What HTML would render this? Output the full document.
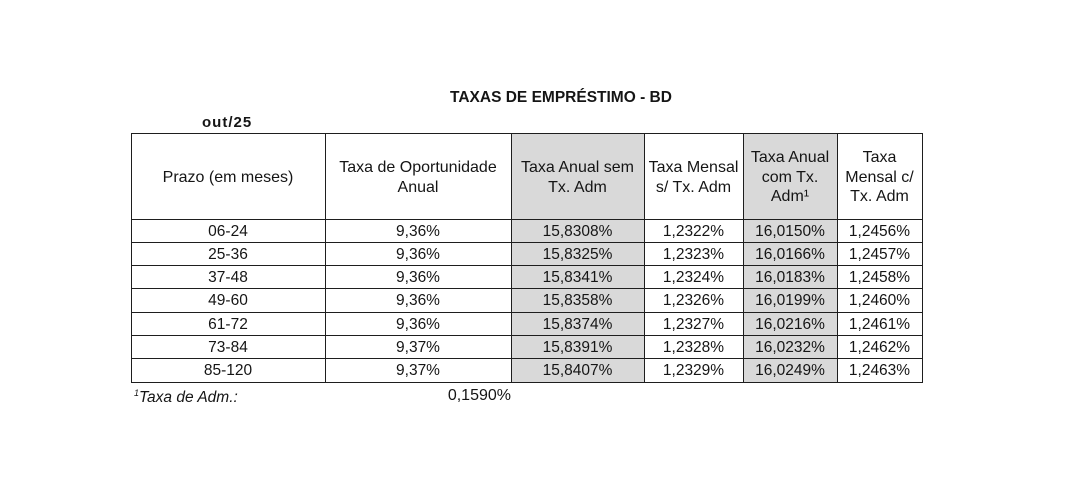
<!DOCTYPE html>
<html><head><meta charset="utf-8"><style>
html,body{margin:0;padding:0;background:#fff;}
body{width:1066px;height:501px;position:relative;overflow:hidden;font-family:"Liberation Sans",sans-serif;color:#151515;}
.c{position:absolute;display:flex;align-items:center;justify-content:center;text-align:center;box-sizing:border-box;white-space:nowrap;}
.g{background:#d9d9d9;}
.h{font-size:16px;line-height:19.5px;}
.d{font-size:15.5px;}
.l{position:absolute;background:#1e1e1e;}
</style></head><body>
<div style="position:absolute;left:440px;top:89px;width:242px;font-weight:bold;font-size:15.5px;white-space:nowrap;text-align:center;">TAXAS DE EMPRÉSTIMO - BD</div>
<div style="position:absolute;left:202px;top:114px;font-weight:bold;font-size:15px;letter-spacing:1px;">out/25</div>

<!-- gray backgrounds -->
<div class="g" style="position:absolute;left:511px;top:133px;width:133px;height:250px;"></div>
<div class="g" style="position:absolute;left:743px;top:133px;width:94px;height:250px;"></div>

<!-- header -->
<div class="c h" style="left:131px;top:134px;width:194px;height:87px;">Prazo (em meses)</div>
<div class="c h" style="left:325px;top:134px;width:186px;height:87px;">Taxa de Oportunidade<br>Anual</div>
<div class="c h" style="left:511px;top:134px;width:133px;height:87px;">Taxa Anual sem<br>Tx. Adm</div>
<div class="c h" style="left:644px;top:134px;width:99px;height:87px;">Taxa Mensal<br>s/ Tx. Adm</div>
<div class="c h" style="left:743px;top:134px;width:94px;height:87px;">Taxa Anual<br>com Tx.<br>Adm¹</div>
<div class="c h" style="left:837px;top:134px;width:85px;height:87px;">Taxa<br>Mensal c/<br>Tx. Adm</div>

<!-- rows -->
<div class="c d" style="left:131px;top:220px;width:194px;height:23px;">06-24</div>
<div class="c d" style="left:325px;top:220px;width:186px;height:23px;">9,36%</div>
<div class="c d" style="left:511px;top:220px;width:133px;height:23px;">15,8308%</div>
<div class="c d" style="left:644px;top:220px;width:99px;height:23px;">1,2322%</div>
<div class="c d" style="left:743px;top:220px;width:94px;height:23px;">16,0150%</div>
<div class="c d" style="left:837px;top:220px;width:85px;height:23px;">1,2456%</div>

<div class="c d" style="left:131px;top:243px;width:194px;height:23px;">25-36</div>
<div class="c d" style="left:325px;top:243px;width:186px;height:23px;">9,36%</div>
<div class="c d" style="left:511px;top:243px;width:133px;height:23px;">15,8325%</div>
<div class="c d" style="left:644px;top:243px;width:99px;height:23px;">1,2323%</div>
<div class="c d" style="left:743px;top:243px;width:94px;height:23px;">16,0166%</div>
<div class="c d" style="left:837px;top:243px;width:85px;height:23px;">1,2457%</div>

<div class="c d" style="left:131px;top:266px;width:194px;height:23px;">37-48</div>
<div class="c d" style="left:325px;top:266px;width:186px;height:23px;">9,36%</div>
<div class="c d" style="left:511px;top:266px;width:133px;height:23px;">15,8341%</div>
<div class="c d" style="left:644px;top:266px;width:99px;height:23px;">1,2324%</div>
<div class="c d" style="left:743px;top:266px;width:94px;height:23px;">16,0183%</div>
<div class="c d" style="left:837px;top:266px;width:85px;height:23px;">1,2458%</div>

<div class="c d" style="left:131px;top:289px;width:194px;height:24px;">49-60</div>
<div class="c d" style="left:325px;top:289px;width:186px;height:24px;">9,36%</div>
<div class="c d" style="left:511px;top:289px;width:133px;height:24px;">15,8358%</div>
<div class="c d" style="left:644px;top:289px;width:99px;height:24px;">1,2326%</div>
<div class="c d" style="left:743px;top:289px;width:94px;height:24px;">16,0199%</div>
<div class="c d" style="left:837px;top:289px;width:85px;height:24px;">1,2460%</div>

<div class="c d" style="left:131px;top:313px;width:194px;height:23px;">61-72</div>
<div class="c d" style="left:325px;top:313px;width:186px;height:23px;">9,36%</div>
<div class="c d" style="left:511px;top:313px;width:133px;height:23px;">15,8374%</div>
<div class="c d" style="left:644px;top:313px;width:99px;height:23px;">1,2327%</div>
<div class="c d" style="left:743px;top:313px;width:94px;height:23px;">16,0216%</div>
<div class="c d" style="left:837px;top:313px;width:85px;height:23px;">1,2461%</div>

<div class="c d" style="left:131px;top:336px;width:194px;height:23px;">73-84</div>
<div class="c d" style="left:325px;top:336px;width:186px;height:23px;">9,37%</div>
<div class="c d" style="left:511px;top:336px;width:133px;height:23px;">15,8391%</div>
<div class="c d" style="left:644px;top:336px;width:99px;height:23px;">1,2328%</div>
<div class="c d" style="left:743px;top:336px;width:94px;height:23px;">16,0232%</div>
<div class="c d" style="left:837px;top:336px;width:85px;height:23px;">1,2462%</div>

<div class="c d" style="left:131px;top:359px;width:194px;height:24px;">85-120</div>
<div class="c d" style="left:325px;top:359px;width:186px;height:24px;">9,37%</div>
<div class="c d" style="left:511px;top:359px;width:133px;height:24px;">15,8407%</div>
<div class="c d" style="left:644px;top:359px;width:99px;height:24px;">1,2329%</div>
<div class="c d" style="left:743px;top:359px;width:94px;height:24px;">16,0249%</div>
<div class="c d" style="left:837px;top:359px;width:85px;height:24px;">1,2463%</div>

<!-- horizontal lines -->
<div class="l" style="left:131px;top:133px;width:792px;height:1px;"></div>
<div class="l" style="left:131px;top:219px;width:792px;height:1px;"></div>
<div class="l" style="left:131px;top:242px;width:792px;height:1px;"></div>
<div class="l" style="left:131px;top:265px;width:792px;height:1px;"></div>
<div class="l" style="left:131px;top:288px;width:792px;height:1px;"></div>
<div class="l" style="left:131px;top:312px;width:792px;height:1px;"></div>
<div class="l" style="left:131px;top:335px;width:792px;height:1px;"></div>
<div class="l" style="left:131px;top:358px;width:792px;height:1px;"></div>
<div class="l" style="left:131px;top:382px;width:792px;height:1px;"></div>
<!-- vertical lines -->
<div class="l" style="left:131px;top:133px;width:1px;height:250px;"></div>
<div class="l" style="left:325px;top:133px;width:1px;height:250px;"></div>
<div class="l" style="left:511px;top:133px;width:1px;height:250px;"></div>
<div class="l" style="left:644px;top:133px;width:1px;height:250px;"></div>
<div class="l" style="left:743px;top:133px;width:1px;height:250px;"></div>
<div class="l" style="left:837px;top:133px;width:1px;height:250px;"></div>
<div class="l" style="left:922px;top:133px;width:1px;height:250px;"></div>

<!-- footnote -->
<div style="position:absolute;left:134px;top:388px;font-size:15.5px;font-style:italic;white-space:nowrap;"><sup style="font-size:9px;">1</sup>Taxa de Adm.:</div>
<div style="position:absolute;left:400px;top:387px;width:111px;text-align:right;font-size:16px;">0,1590%</div>
</body></html>
